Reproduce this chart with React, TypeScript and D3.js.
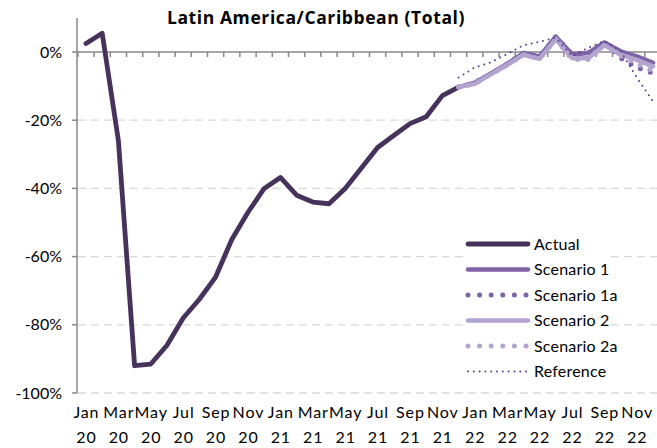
import React from "react";
import * as d3 from "d3";

const categories = [
  "Jan 20","Feb 20","Mar 20","Apr 20","May 20","Jun 20","Jul 20","Aug 20","Sep 20","Oct 20","Nov 20","Dec 20",
  "Jan 21","Feb 21","Mar 21","Apr 21","May 21","Jun 21","Jul 21","Aug 21","Sep 21","Oct 21","Nov 21","Dec 21",
  "Jan 22","Feb 22","Mar 22","Apr 22","May 22","Jun 22","Jul 22","Aug 22","Sep 22","Oct 22","Nov 22","Dec 22",
];
// tick labels shown every second month
const tickMonths = ["Jan","Mar","May","Jul","Sep","Nov"];
const yTicks = [0, -20, -40, -60, -80, -100];

const actual = [2.5, 5.5, -26, -92, -91.5, -86, -78, -72.5, -66, -55, -47, -40,
  -36.8, -42, -44, -44.5, -40, -34, -28, -24.5, -21, -19, -12.8, -10.3];
// projections start at Dec 21
const scenario1 = [-10.3, -9, -6.3, -3.5, -0.3, -1.3, 4.5, -0.7, -0.3, 2.8, 0.2, -1.3, -3.2];
const scenario1a = [-10.3, -9, -6.3, -3.5, -0.3, -1.3, 4.5, -0.7, -0.3, 2.8, -1.8, -4.5, -6.2];
const scenario2 = [-10.3, -9.3, -6.5, -3.8, -0.8, -2, 3.8, -1.8, -1.8, 2, -0.8, -2.3, -4.2];
const scenario2a = [-10.3, -9.3, -6.5, -3.8, -0.8, -2, 3.8, -2.2, -2.2, 2, -1, -3.5, -5.5];
const reference = [-7.5, -4.5, -3, -0.6, 2, 3, 4.2, -1.2, 1.2, 3.2, 0.3, -7.5, -14.5];

const C_ACTUAL = "#45335c";
const C_S1 = "#7d62a6";
const C_S2 = "#b3a3cf";
const C_REF = "#5b4189";

const W = 657, H = 448;
const x0 = 77.9, bw = 16.2;
const y0 = 52, y100 = 393;

export default function App() {
  const x = d3.scaleBand<string>().domain(categories).range([x0, x0 + bw * categories.length]).padding(0);
  const y = d3.scaleLinear().domain([-100, 0]).range([y100, y0]);
  const cx = (c: string) => (x(c) as number) + x.bandwidth() / 2;

  const line = d3.line<[string, number]>().x(d => cx(d[0])).y(d => y(d[1]));
  const startIdx = 23;
  const proj = (arr: number[]) => arr.map((v, i) => [categories[startIdx + i], v] as [string, number]);
  const act = actual.map((v, i) => [categories[i], v] as [string, number]);

  const series = [
    { name: "Actual", d: line(act), color: C_ACTUAL, w: 4.8, dash: null as string | null },
    { name: "Scenario 1", d: line(proj(scenario1)), color: C_S1, w: 4.5, dash: null },
    { name: "Scenario 1a", d: line(proj(scenario1a)), color: C_S1, w: 5, dash: "0 10.5" },
    { name: "Scenario 2", d: line(proj(scenario2)), color: C_S2, w: 4.5, dash: null },
    { name: "Scenario 2a", d: line(proj(scenario2a)), color: C_S2, w: 5, dash: "0 10.5" },
    { name: "Reference", d: line(proj(reference)), color: C_REF, w: 2, dash: "0 5.8" },
  ];

  const font = "Lato, 'Open Sans', sans-serif";
  const xEnd = W + 10;

  return (
    <svg width={W} height={H} style={{ position: "absolute", left: 0, top: 0, background: "#fff" }} fontFamily={font}>
      <rect width={W} height={H} fill="#fff" />
      <text x={316} y={23.5} textAnchor="middle" fontWeight="bold" fontSize={17.5} letterSpacing={0.6} fill="#000"
        fontFamily="'Open Sans', Lato, sans-serif">
        Latin America/Caribbean (Total)
      </text>
      {/* gridlines */}
      {yTicks.filter(t => t !== 0).map(t => (
        <line key={t} x1={x0} x2={xEnd} y1={y(t)} y2={y(t)} stroke="#d9d9d9" strokeWidth={1.3} strokeDasharray="8 5" />
      ))}
      {/* y axis */}
      <line x1={77} x2={77} y1={18} y2={y100} stroke="#888" strokeWidth={1.5} />
      {yTicks.map(t => (
        <g key={t}>
          <line x1={72} x2={77} y1={y(t)} y2={y(t)} stroke="#888" strokeWidth={1.5} />
          <text x={62} y={y(t) + 5.5} textAnchor="end" fontSize={16} fill="#000">{t}%</text>
        </g>
      ))}
      {/* x axis at 0% */}
      <line x1={77} x2={xEnd} y1={y(0)} y2={y(0)} stroke="#888" strokeWidth={1.5} />
      {categories.map(c => (
        <line key={c} x1={(x(c) as number)} x2={(x(c) as number)} y1={y(0)} y2={y(0) + 5} stroke="#888" strokeWidth={1.5} />
      ))}
      {categories.map((c, i) => {
        const [m, yr] = c.split(" ");
        if (!tickMonths.includes(m) || i % 2 !== 0) return null;
        return (
          <text key={c} x={cx(c)} textAnchor="middle" fontSize={16} letterSpacing={0.9} fill="#000">
            <tspan x={cx(c) + 0.45} y={418}>{m}</tspan>
            <tspan x={cx(c) + 0.45} y={443}>{yr}</tspan>
          </text>
        );
      })}
      {/* series */}
      {series.map(s => (
        <path key={s.name} d={s.d || ""} fill="none" stroke={s.color} strokeWidth={s.w}
          strokeLinejoin="round" strokeLinecap="round" strokeDasharray={s.dash || undefined} />
      ))}
      {/* legend */}
      <rect x={463} y={232} width={145} height={152} fill="#fff" />
      {series.map((s, i) => {
        const ly = 244 + i * 25.5;
        return (
          <g key={s.name}>
            <line x1={468} x2={s.dash ? 527 : 528} y1={ly} y2={ly} stroke={s.color} strokeWidth={s.w}
              strokeLinecap="round" strokeDasharray={s.dash ? (s.w > 3 ? "0 11.6" : "0 5.8") : undefined} />
            <text x={534} y={ly + 5.5} fontSize={16} letterSpacing={0.2} fill="#000">{s.name}</text>
          </g>
        );
      })}
    </svg>
  );
}
